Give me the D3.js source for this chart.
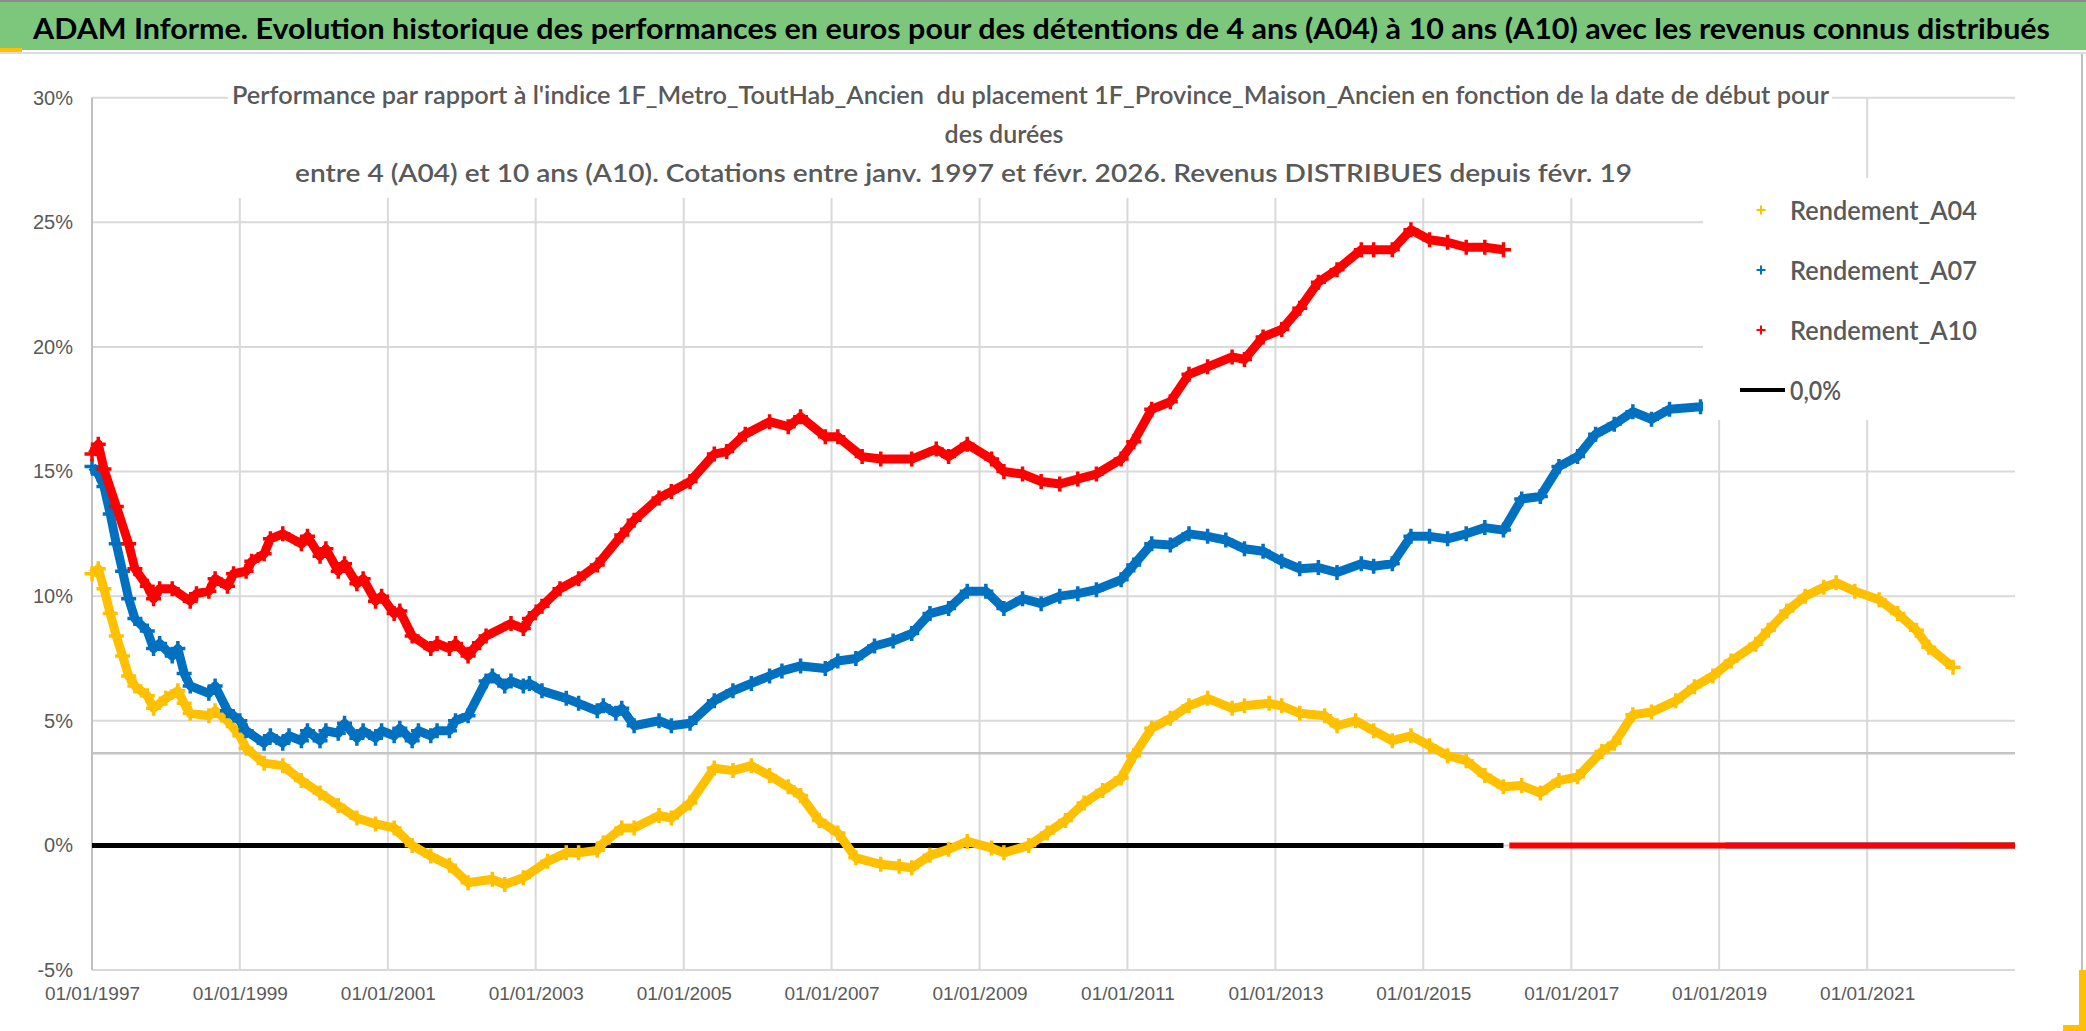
<!DOCTYPE html>
<html>
<head>
<meta charset="utf-8">
<script src="https://cdn.jsdelivr.net/npm/d3@7"></script>
<style>
    body { margin: 0; background: #fff; }
    svg { display: block; }
</style>
</head>
<body>
<svg id="chart"></svg>
<script>
// ---- data (values in %) ----
var titleText = "ADAM Informe. Evolution historique des performances en euros pour des détentions de 4 ans (A04) à 10 ans (A10) avec les revenus connus distribués";
var subtitleLines = [
    "Performance par rapport à l'indice 1F_Metro_ToutHab_Ancien  du placement 1F_Province_Maison_Ancien en fonction de la date de début pour",
    "des durées",
    "entre 4 (A04) et 10 ans (A10). Cotations entre janv. 1997 et févr. 2026. Revenus DISTRIBUES depuis févr. 19"
];
var legendLabels = ["Rendement_A04", "Rendement_A07", "Rendement_A10", "0,0%"];
var xTickYears = [1997, 1999, 2001, 2003, 2005, 2007, 2009, 2011, 2013, 2015, 2017, 2019, 2021];
var yTicks = [-5, 0, 5, 10, 15, 20, 25, 30];
var xDomain = ["1997-01", "2023-01"];
var yDomain = [-5, 30];
var refLevel = 3.7;

var a04 = [["1997-01",10.9],["1997-02",11.1],["1997-03",10.3],["1997-04",9.3],["1997-05",8.4],["1997-06",7.6],["1997-07",6.8],["1997-08",6.4],["1997-10",6.0],["1997-11",5.5],["1998-01",5.9],["1998-03",6.2],["1998-04",5.7],["1998-05",5.3],["1998-08",5.2],["1998-09",5.4],["1998-11",5.0],["1999-01",4.4],["1999-02",3.9],["1999-05",3.3],["1999-08",3.2],["1999-11",2.6],["2000-02",2.1],["2000-05",1.6],["2000-08",1.1],["2000-11",0.86],["2001-02",0.7],["2001-05",0.0],["2001-08",-0.43],["2001-11",-0.8],["2002-02",-1.5],["2002-06",-1.36],["2002-08",-1.57],["2002-11",-1.3],["2003-03",-0.64],["2003-06",-0.3],["2003-08",-0.3],["2003-11",-0.2],["2003-12",0.1],["2004-03",0.7],["2004-05",0.7],["2004-09",1.2],["2004-11",1.1],["2005-02",1.7],["2005-06",3.1],["2005-09",3.0],["2005-12",3.2],["2006-03",2.8],["2006-06",2.35],["2006-08",2.0],["2006-11",1.0],["2007-02",0.5],["2007-05",-0.5],["2007-09",-0.76],["2007-12",-0.84],["2008-02",-0.9],["2008-05",-0.4],["2008-08",-0.16],["2008-11",0.16],["2009-03",-0.1],["2009-05",-0.3],["2009-09",0.0],["2009-12",0.5],["2010-03",1.0],["2010-06",1.7],["2010-09",2.2],["2010-12",2.7],["2011-02",3.6],["2011-05",4.7],["2011-08",5.1],["2011-11",5.6],["2012-02",5.9],["2012-06",5.5],["2012-08",5.6],["2012-12",5.7],["2013-02",5.6],["2013-05",5.3],["2013-09",5.2],["2013-11",4.8],["2014-02",5.0],["2014-05",4.6],["2014-08",4.2],["2014-11",4.4],["2015-02",4.0],["2015-05",3.6],["2015-08",3.4],["2015-11",2.8],["2016-02",2.35],["2016-05",2.4],["2016-08",2.1],["2016-11",2.6],["2017-02",2.75],["2017-06",3.77],["2017-08",4.1],["2017-11",5.24],["2018-02",5.35],["2018-06",5.8],["2018-09",6.37],["2018-12",6.8],["2019-03",7.4],["2019-07",8.07],["2019-09",8.63],["2019-12",9.4],["2020-03",10.0],["2020-06",10.36],["2020-08",10.54],["2020-11",10.2],["2021-03",9.86],["2021-06",9.3],["2021-09",8.63],["2021-11",7.95],["2022-03",7.15]];
var a04Tail = [["2022-04",0],["2023-01",0]];

var a07 = [["1997-01",15.2],["1997-02",14.9],["1997-03",14.4],["1997-04",13.3],["1997-05",12.1],["1997-06",11.0],["1997-07",9.9],["1997-08",9.1],["1997-10",8.6],["1997-11",7.9],["1997-12",8.1],["1998-02",7.6],["1998-03",7.9],["1998-04",6.9],["1998-05",6.4],["1998-08",6.1],["1998-09",6.4],["1998-11",5.4],["1999-01",5.0],["1999-02",4.6],["1999-05",4.1],["1999-06",4.4],["1999-08",4.1],["1999-09",4.4],["1999-11",4.2],["1999-12",4.6],["2000-02",4.2],["2000-03",4.6],["2000-05",4.5],["2000-06",4.9],["2000-08",4.3],["2000-09",4.6],["2000-11",4.3],["2000-12",4.6],["2001-02",4.4],["2001-03",4.7],["2001-05",4.2],["2001-06",4.6],["2001-08",4.4],["2001-09",4.6],["2001-11",4.6],["2001-12",5.0],["2002-02",5.2],["2002-05",6.6],["2002-06",6.8],["2002-08",6.4],["2002-09",6.6],["2002-11",6.4],["2002-12",6.5],["2003-02",6.2],["2003-06",5.9],["2003-08",5.7],["2003-11",5.4],["2003-12",5.6],["2004-02",5.3],["2004-03",5.5],["2004-05",4.8],["2004-09",5.0],["2004-11",4.8],["2005-02",4.9],["2005-06",5.8],["2005-09",6.2],["2005-12",6.5],["2006-03",6.8],["2006-05",7.0],["2006-08",7.2],["2006-12",7.1],["2007-02",7.4],["2007-05",7.5],["2007-08",8.0],["2007-11",8.2],["2008-02",8.5],["2008-05",9.3],["2008-08",9.5],["2008-11",10.2],["2009-02",10.2],["2009-05",9.5],["2009-08",9.9],["2009-11",9.7],["2010-02",10.0],["2010-05",10.1],["2010-08",10.26],["2010-12",10.66],["2011-02",11.25],["2011-05",12.1],["2011-08",12.05],["2011-11",12.5],["2012-02",12.4],["2012-05",12.25],["2012-08",11.9],["2012-11",11.8],["2013-02",11.4],["2013-05",11.1],["2013-08",11.15],["2013-11",10.95],["2014-03",11.3],["2014-05",11.2],["2014-08",11.3],["2014-11",12.4],["2015-02",12.4],["2015-05",12.3],["2015-08",12.5],["2015-11",12.75],["2016-02",12.65],["2016-05",13.9],["2016-08",14.0],["2016-11",15.2],["2017-02",15.6],["2017-05",16.5],["2017-08",16.9],["2017-11",17.4],["2018-02",17.1],["2018-05",17.5],["2018-10",17.6],["2019-01",17.7]];
var a07Tail = [["2019-02",0],["2023-01",0]];

var a10 = [["1997-01",15.7],["1997-02",16.1],["1997-03",15.1],["1997-05",13.6],["1997-07",12.1],["1997-08",11.1],["1997-10",10.4],["1997-11",9.9],["1997-12",10.3],["1998-02",10.3],["1998-05",9.8],["1998-06",10.1],["1998-08",10.2],["1998-09",10.7],["1998-11",10.4],["1998-12",10.9],["1999-02",11.0],["1999-03",11.4],["1999-05",11.7],["1999-06",12.3],["1999-08",12.5],["1999-11",12.1],["1999-12",12.4],["2000-02",11.6],["2000-03",11.9],["2000-05",11.0],["2000-06",11.3],["2000-08",10.5],["2000-09",10.7],["2000-11",9.8],["2000-12",10.0],["2001-02",9.3],["2001-03",9.4],["2001-05",8.4],["2001-08",7.9],["2001-09",8.1],["2001-11",7.9],["2001-12",8.1],["2002-02",7.6],["2002-03",7.9],["2002-05",8.4],["2002-09",8.9],["2002-11",8.7],["2002-12",9.1],["2003-02",9.6],["2003-05",10.3],["2003-08",10.7],["2003-11",11.25],["2004-03",12.45],["2004-05",13.05],["2004-09",13.94],["2004-11",14.2],["2005-02",14.6],["2005-06",15.7],["2005-08",15.8],["2005-11",16.5],["2006-03",17.0],["2006-06",16.8],["2006-08",17.2],["2006-12",16.4],["2007-02",16.4],["2007-06",15.6],["2007-09",15.5],["2008-02",15.5],["2008-06",15.9],["2008-08",15.6],["2008-11",16.1],["2009-03",15.5],["2009-05",15.0],["2009-08",14.9],["2009-11",14.6],["2010-02",14.5],["2010-05",14.7],["2010-08",14.9],["2010-12",15.5],["2011-02",16.2],["2011-05",17.5],["2011-08",17.8],["2011-11",18.9],["2012-02",19.2],["2012-06",19.6],["2012-08",19.5],["2012-11",20.4],["2013-02",20.7],["2013-05",21.55],["2013-08",22.6],["2013-11",23.1],["2014-03",23.9],["2014-05",23.9],["2014-08",23.9],["2014-11",24.7],["2015-02",24.3],["2015-05",24.2],["2015-08",24.0],["2015-11",24.0],["2016-02",23.9]];
var a10Tail = [["2016-03",0],["2023-01",0]];

var zeroLine = [["1997-01",0],["2016-02",0]];

// ---- layout ----
var width = 2086,
    height = 1031,
    plot = { left: 92, right: 2015, top: 97.7, bottom: 970 },
    colors = { a04: '#ffc000', a07: '#0070c0', a10: '#ff0000' },
    labelColor = '#595959',
    gridColor = '#d9d9d9';

var parseMonth = d3.timeParse('%Y-%m');
var pctFormat = d3.formatLocale({
    decimal: ',', thousands: ' ', grouping: [3], currency: ['', '€'], minus: '-'
}).format('.0%');

var x = d3.scaleTime()
    .domain(xDomain.map(parseMonth))
    .range([plot.left, plot.right]);
var y = d3.scaleLinear()
    .domain(yDomain)
    .range([plot.bottom, plot.top]);

var svg = d3.select('#chart')
    .attr('width', width)
    .attr('height', height)
    .style('font-family', 'Lato, "Liberation Sans", sans-serif');

svg.append('rect').attr('width', width).attr('height', height).attr('fill', '#fff');

// title band
svg.append('rect').attr('x', 0).attr('y', 0).attr('width', width).attr('height', 2).attr('fill', '#8c8c8c');
svg.append('rect').attr('x', 0).attr('y', 2).attr('width', width).attr('height', 48).attr('fill', '#7dc77d');
svg.append('rect').attr('x', 0).attr('y', 52).attr('width', width).attr('height', 2).attr('fill', '#dcdcdc');
svg.append('rect').attr('x', 0).attr('y', 48).attr('width', 22).attr('height', 4).attr('fill', '#ffc000');
svg.append('text')
    .attr('x', 33)
    .attr('y', 39)
    .attr('font-size', 29)
    .attr('font-weight', 'bold')
    .attr('fill', '#000')
    .attr('textLength', 2017)
    .attr('lengthAdjust', 'spacingAndGlyphs')
    .text(titleText);

// right border and corner decoration
svg.append('line')
    .attr('x1', 2082).attr('x2', 2082).attr('y1', 54).attr('y2', height)
    .attr('stroke', '#bfbfbf').attr('stroke-width', 2);
svg.append('rect').attr('x', 2079).attr('y', 970).attr('width', 7).attr('height', 61).attr('fill', '#ffc000');
svg.append('rect').attr('x', 2063).attr('y', 1025).attr('width', 23).attr('height', 6).attr('fill', '#ffc000');

// grid
var xTicks = xTickYears.map(function (yr) { return new Date(yr, 0, 1); });

svg.append('g')
    .selectAll('line')
    .data(yTicks)
    .enter()
    .append('line')
    .attr('x1', plot.left).attr('x2', plot.right)
    .attr('y1', function (d) { return y(d); })
    .attr('y2', function (d) { return y(d); })
    .attr('stroke', gridColor)
    .attr('stroke-width', 2);

svg.append('g')
    .selectAll('line')
    .data(xTicks.slice(1))
    .enter()
    .append('line')
    .attr('x1', function (d) { return x(d); })
    .attr('x2', function (d) { return x(d); })
    .attr('y1', plot.top).attr('y2', plot.bottom)
    .attr('stroke', gridColor)
    .attr('stroke-width', 2);

// left axis line and the reference line
svg.append('line')
    .attr('x1', plot.left).attr('x2', plot.left)
    .attr('y1', plot.top).attr('y2', plot.bottom)
    .attr('stroke', '#bfbfbf').attr('stroke-width', 2);
svg.append('line')
    .attr('x1', plot.left).attr('x2', plot.right)
    .attr('y1', y(refLevel)).attr('y2', y(refLevel))
    .attr('stroke', '#c4c4c4').attr('stroke-width', 2.5);

// axes labels via d3 axes
var yAxis = d3.axisLeft(y)
    .tickValues(yTicks)
    .tickSize(0)
    .tickPadding(0)
    .tickFormat(function (d) { return pctFormat(d / 100); });
var gy = svg.append('g')
    .attr('transform', 'translate(73,0)')
    .call(yAxis);
gy.select('.domain').remove();
gy.selectAll('text')
    .attr('font-family', '"Liberation Sans", Arial, sans-serif')
    .attr('font-size', 20)
    .attr('fill', labelColor);

var xAxis = d3.axisBottom(x)
    .tickValues(xTicks)
    .tickSize(0)
    .tickPadding(0)
    .tickFormat(d3.timeFormat('%d/%m/%Y'));
var gx = svg.append('g')
    .attr('transform', 'translate(0,' + (plot.bottom + 16) + ')')
    .call(xAxis);
gx.select('.domain').remove();
gx.selectAll('text')
    .attr('font-family', '"Liberation Sans", Arial, sans-serif')
    .attr('font-size', 19)
    .attr('fill', labelColor);

// series
var line = d3.line()
    .x(function (d) { return x(parseMonth(d[0])); })
    .y(function (d) { return y(d[1]); });

function crossPath(size) {
    var h = size / 2;
    return 'M' + (-h) + ',0H' + h + 'M0,' + (-h) + 'V' + h;
}

function drawSeries(data, color, width, markerSize) {
    svg.append('path')
        .datum(data)
        .attr('d', line)
        .attr('fill', 'none')
        .attr('stroke', color)
        .attr('stroke-width', width)
        .attr('stroke-linejoin', 'round');
    if (markerSize) {
        svg.append('g')
            .selectAll('path')
            .data(data)
            .enter()
            .append('path')
            .attr('transform', function (d) {
                return 'translate(' + x(parseMonth(d[0])) + ',' + y(d[1]) + ')';
            })
            .attr('d', crossPath(markerSize))
            .attr('stroke', color)
            .attr('stroke-width', 3.5);
    }
}

// black 0,0% line first, then A04, A07, A10
svg.append('path')
    .datum(zeroLine)
    .attr('d', line)
    .attr('fill', 'none')
    .attr('stroke', '#000')
    .attr('stroke-width', 5);

drawSeries(a04, colors.a04, 9, 15);
drawSeries(a04Tail, colors.a04, 6, 0);
drawSeries(a07, colors.a07, 9, 15);
drawSeries(a07Tail, colors.a07, 6, 0);
drawSeries(a10, colors.a10, 9, 15);
drawSeries(a10Tail, colors.a10, 6, 0);

// subtitle with white box (covers gridlines like in Excel)
svg.append('rect')
    .attr('x', 228).attr('y', 72).attr('width', 1604).attr('height', 126)
    .attr('fill', '#fff');
var subX = [232, null, 295],
    subLen = [1597, null, 1337],
    subY = [104, 143, 182];
subtitleLines.forEach(function (s, i) {
    var t = svg.append('text')
        .attr('y', subY[i])
        .attr('font-size', 25)
        .attr('font-weight', 600)
        .attr('fill', labelColor)
        .attr('xml:space', 'preserve')
        .text(s);
    if (subX[i] === null) {
        t.attr('x', 1004).attr('text-anchor', 'middle');
    } else {
        t.attr('x', subX[i])
            .attr('textLength', subLen[i])
            .attr('lengthAdjust', 'spacingAndGlyphs');
    }
});

// legend
svg.append('rect')
    .attr('x', 1703).attr('y', 178).attr('width', 312).attr('height', 242)
    .attr('fill', '#fff');
var legendColors = [colors.a04, colors.a07, colors.a10, '#000'];
var legend = svg.append('g')
    .selectAll('g')
    .data(legendLabels)
    .enter()
    .append('g')
    .attr('transform', function (d, i) {
        return 'translate(0,' + (210 + i * 60) + ')';
    });
legend.each(function (d, i) {
    var g = d3.select(this);
    if (i < 3) {
        g.append('path')
            .attr('transform', 'translate(1761,0)')
            .attr('d', crossPath(9))
            .attr('stroke', legendColors[i])
            .attr('stroke-width', 2);
    } else {
        g.append('line')
            .attr('x1', 1740).attr('x2', 1785)
            .attr('stroke', '#000').attr('stroke-width', 4);
    }
    g.append('text')
        .attr('x', 1790)
        .attr('y', 10)
        .attr('font-size', 27)
        .attr('font-weight', 600)
        .attr('fill', labelColor)
        .attr('textLength', i < 3 ? 187 : 51)
        .attr('lengthAdjust', 'spacingAndGlyphs')
        .text(d);
});
</script>
</body>
</html>
